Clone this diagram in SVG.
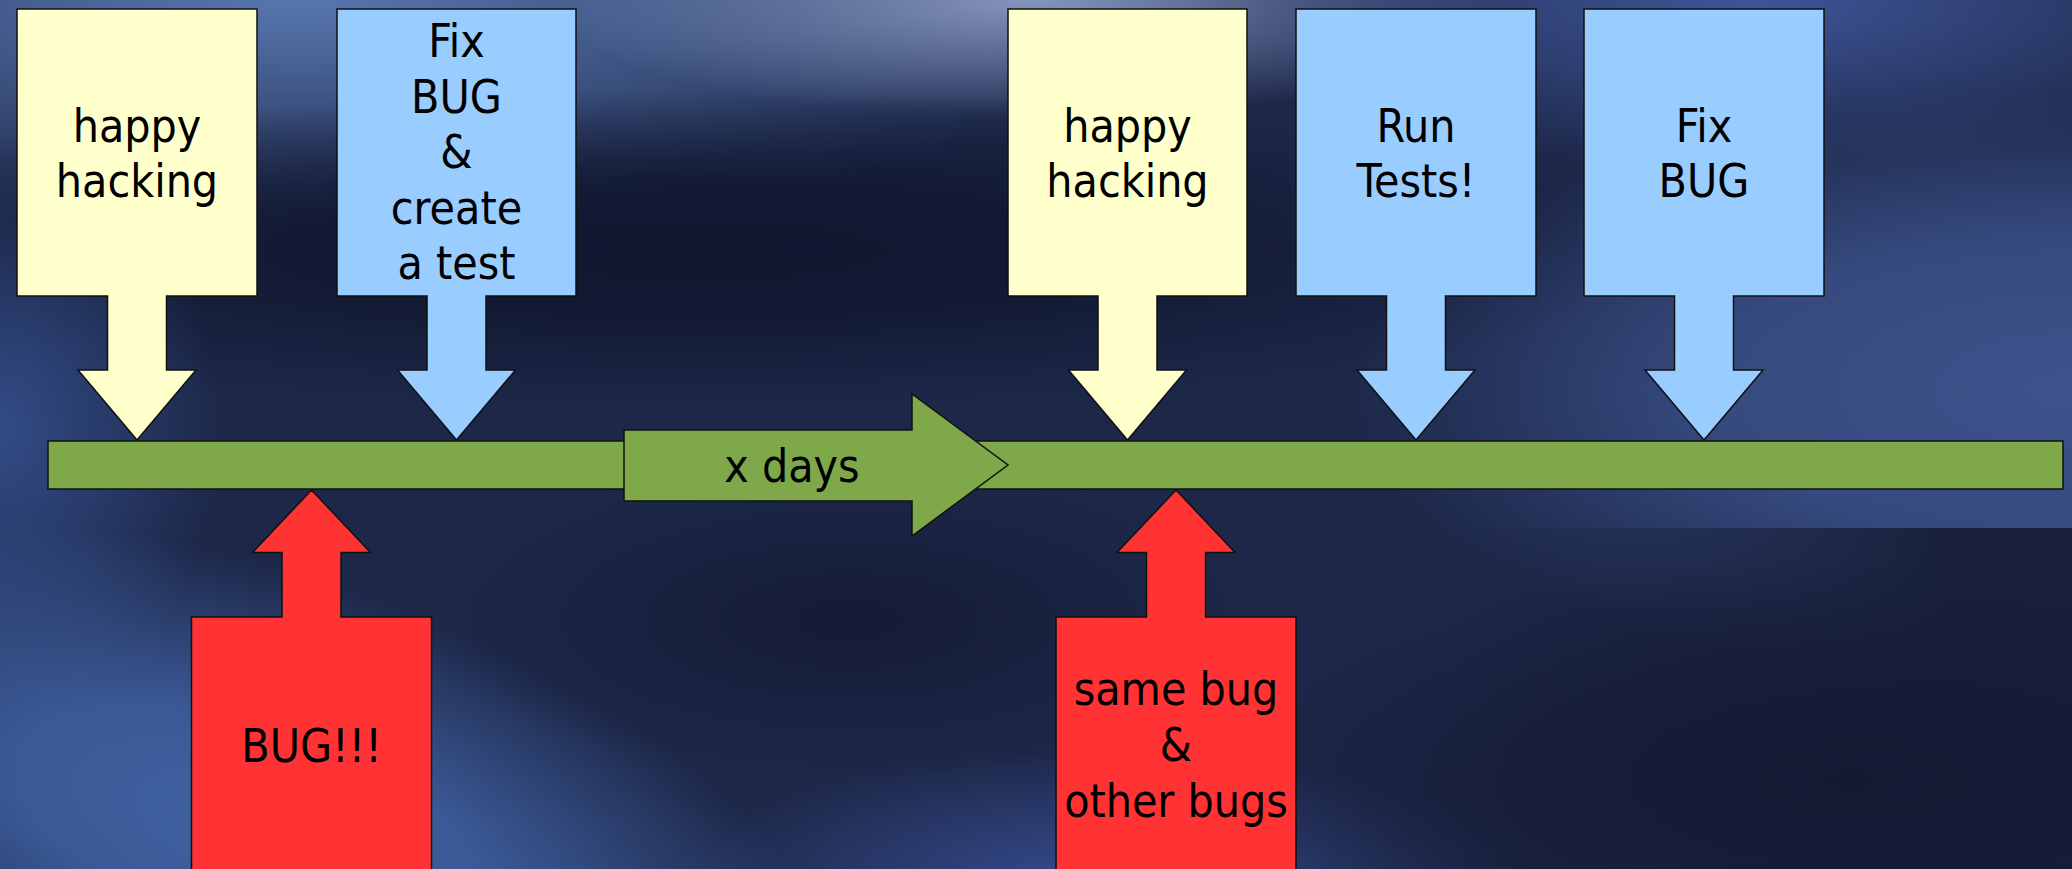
<svg xmlns="http://www.w3.org/2000/svg" width="2072" height="869" viewBox="0 0 2072 869">
<defs>
<style>
.t{font-family:"DejaVu Sans Condensed","DejaVu Sans","Liberation Sans",sans-serif;font-stretch:condensed;font-size:46px;fill:#000;text-anchor:middle}
.sh{stroke:#111;stroke-width:1.5;stroke-linejoin:miter}
.y{fill:#ffffcc}
.b{fill:#99ccff}
.r{fill:#ff3333}
.g{fill:#7ea84a}
</style>
<radialGradient id="g1"><stop offset="0" stop-color="#5877b0"/><stop offset="1" stop-color="#5877b0" stop-opacity="0"/></radialGradient>
<radialGradient id="g2"><stop offset="0" stop-color="#8595bd"/><stop offset="1" stop-color="#8595bd" stop-opacity="0"/></radialGradient>
<radialGradient id="g3"><stop offset="0" stop-color="#3e5598"/><stop offset="1" stop-color="#3e5598" stop-opacity="0"/></radialGradient>
<radialGradient id="g4"><stop offset="0" stop-color="#10172f"/><stop offset="0.4" stop-color="#10172f" stop-opacity="0.85"/><stop offset="1" stop-color="#10172f" stop-opacity="0"/></radialGradient>
<radialGradient id="g5"><stop offset="0" stop-color="#324c86"/><stop offset="1" stop-color="#324c86" stop-opacity="0"/></radialGradient>
<radialGradient id="g6"><stop offset="0" stop-color="#4062a2"/><stop offset="0.4" stop-color="#3e5e9e" stop-opacity="0.9"/><stop offset="1" stop-color="#3e5e9e" stop-opacity="0"/></radialGradient>
<radialGradient id="g7"><stop offset="0" stop-color="#364b8e"/><stop offset="1" stop-color="#364b8e" stop-opacity="0"/></radialGradient>
<radialGradient id="g8"><stop offset="0" stop-color="#141b35"/><stop offset="1" stop-color="#141b35" stop-opacity="0"/></radialGradient>
<radialGradient id="g9"><stop offset="0" stop-color="#3d538c"/><stop offset="0.5" stop-color="#3a5088" stop-opacity="0.85"/><stop offset="1" stop-color="#3a5088" stop-opacity="0"/></radialGradient>
<radialGradient id="g10"><stop offset="0" stop-color="#131a32"/><stop offset="0.5" stop-color="#151c36" stop-opacity="0.8"/><stop offset="1" stop-color="#151c36" stop-opacity="0"/></radialGradient>
<linearGradient id="edge" x1="1450" y1="0" x2="1950" y2="0" gradientUnits="userSpaceOnUse"><stop offset="0" stop-color="#18203a" stop-opacity="0"/><stop offset="1" stop-color="#18203a"/></linearGradient>
<linearGradient id="edgev" x1="0" y1="528" x2="0" y2="700" gradientUnits="userSpaceOnUse"><stop offset="0" stop-color="#fff"/><stop offset="1" stop-color="#fff" stop-opacity="0.6"/></linearGradient>
</defs>
<g id="background">
<rect width="2072" height="869" fill="#1d2849"/>
<ellipse cx="300" cy="0" rx="900" ry="230" fill="url(#g1)"/>
<ellipse cx="1030" cy="0" rx="480" ry="120" fill="url(#g2)"/>
<ellipse cx="1750" cy="0" rx="550" ry="170" fill="url(#g3)"/>
<ellipse cx="700" cy="250" rx="1000" ry="160" fill="url(#g4)"/>
<ellipse cx="0" cy="430" rx="220" ry="280" fill="url(#g5)"/>
<ellipse cx="250" cy="830" rx="620" ry="260" fill="url(#g6)" transform="rotate(18 250 830)"/>
<ellipse cx="1100" cy="880" rx="420" ry="130" fill="url(#g7)"/>
<ellipse cx="850" cy="620" rx="420" ry="160" fill="url(#g8)"/>
<ellipse cx="2072" cy="390" rx="720" ry="300" fill="url(#g9)"/>
<rect x="1400" y="528" width="672" height="341" fill="url(#edge)"/>
<ellipse cx="1850" cy="780" rx="650" ry="220" fill="url(#g10)"/>
</g>
<g id="connectors">
<rect id="timeline" class="g sh" x="48" y="441" width="2015" height="48"/>
</g>
<g id="xdays">
<path class="g sh" d="M624,430 H912 V394 L1008,465 L912,536 V501 H624 Z"/>
<text class="t" x="792" y="482">x days</text>
</g>
<g id="happy1">
<path class="y sh" d="M17,9 H257 V296 H166.5 V370 H196 L137,440 L78,370 H107.5 V296 H17 Z"/>
<text class="t" x="137" y="142">happy</text>
<text class="t" x="137" y="197">hacking</text>
</g>
<g id="fixbug1">
<path class="b sh" d="M337,9 H576 V296 H486 V370 H515.5 L456.5,440 L397.5,370 H427 V296 H337 Z"/>
<text class="t" x="456.5" y="57">Fix</text>
<text class="t" x="456.5" y="112.5">BUG</text>
<text class="t" x="456.5" y="168">&amp;</text>
<text class="t" x="456.5" y="224">create</text>
<text class="t" x="456.5" y="279">a test</text>
</g>
<g id="happy2">
<path class="y sh" d="M1008,9 H1247 V296 H1157 V370 H1186.5 L1127.5,440 L1068.5,370 H1098 V296 H1008 Z"/>
<text class="t" x="1127.5" y="142">happy</text>
<text class="t" x="1127.5" y="197">hacking</text>
</g>
<g id="runtests">
<path class="b sh" d="M1296,9 H1536 V296 H1445.5 V370 H1475 L1416,440 L1357,370 H1386.5 V296 H1296 Z"/>
<text class="t" x="1416" y="142">Run</text>
<text class="t" x="1416" y="197">Tests!</text>
</g>
<g id="fixbug2">
<path class="b sh" d="M1584,9 H1824 V296 H1733.5 V370 H1763 L1704,440 L1645,370 H1674.5 V296 H1584 Z"/>
<text class="t" x="1704" y="142">Fix</text>
<text class="t" x="1704" y="197">BUG</text>
</g>
<g id="bug1">
<path class="r sh" d="M311.5,490 L370.5,552.5 H341 V617 H431.5 V880 H191.5 V617 H282 V552.5 H252.5 Z"/>
<text class="t" x="311.5" y="762">BUG!!!</text>
</g>
<g id="bug2">
<path class="r sh" d="M1176,490 L1235,552.5 H1205.5 V617 H1296 V880 H1056 V617 H1146.5 V552.5 H1117 Z"/>
<text class="t" x="1176" y="705">same bug</text>
<text class="t" x="1176" y="761">&amp;</text>
<text class="t" x="1176" y="817">other bugs</text>
</g>
</svg>
